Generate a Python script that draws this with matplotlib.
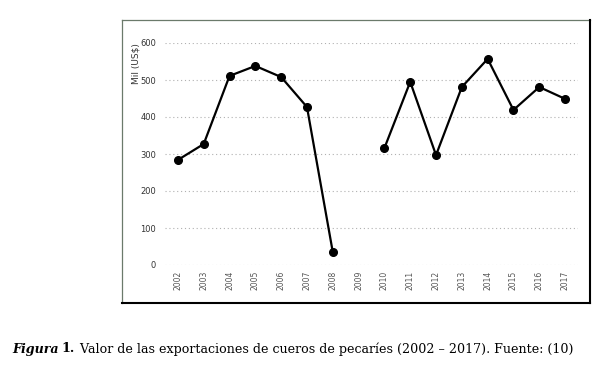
import matplotlib.pyplot as plt
from matplotlib.lines import Line2D
import numpy as np

years = [2002, 2003, 2004, 2005, 2006, 2007, 2008, 2009, 2010,
         2011, 2012, 2013, 2014, 2015, 2016, 2017]
# 2009 has no value (gap in the line)
values = [284, 327, 511, 538, 508, 427, 35, np.nan, 316,
          495, 297, 481, 557, 419, 481, 449]
y_ticks = [0, 100, 200, 300, 400, 500, 600]

W, H = 603, 366
fig = plt.figure(figsize=(W / 100, H / 100), dpi=100)

# axes placed in pixel terms: x 165..578, y 43..265
ax = fig.add_axes([165 / W, 1 - 265 / H, (578 - 165) / W, (265 - 43) / H])
ax.plot(years, values, color='black', lw=1.6, marker='o', ms=5.5, zorder=3)
ax.set_xlim(2001.5, 2017.5)
ax.set_ylim(0, 600)
ax.set_xticks(years)
ax.set_xticklabels([str(y) for y in years], rotation=90, fontsize=5.5, color='#555555')
ax.set_yticks(y_ticks)
ax.set_yticklabels([str(v) for v in y_ticks], fontsize=6, color='#333333')
ax.tick_params(length=0, pad=4)
ax.tick_params(axis='y', pad=6.5)
for s in ax.spines.values():
    s.set_visible(False)
ax.grid(axis='y', color='#b0b0b0', lw=0.8, ls=(0, (1, 2.5)), zorder=0)
ax.set_axisbelow(True)
fig.text(136 / W, 1 - 64 / H, 'Mil (US$)', rotation=90, fontsize=6.5,
         color='#333333', ha='center', va='center')

# chart frame: thin grey top/left, heavier black right/bottom
x0, x1, y0, y1 = 122 / W, 590 / W, 1 - 303 / H, 1 - 20 / H
fig.add_artist(Line2D([x0, x1], [y1, y1], transform=fig.transFigure, color='#6b7a6b', lw=0.9))
fig.add_artist(Line2D([x0, x0], [y0, y1], transform=fig.transFigure, color='#6b7a6b', lw=0.9))
fig.add_artist(Line2D([x1, x1], [y0, y1], transform=fig.transFigure, color='black', lw=1.5))
fig.add_artist(Line2D([x0, x1], [y0, y0], transform=fig.transFigure, color='black', lw=1.5))

# caption
cap_y = 1 - 349 / H
fs = 9.1
t1 = fig.text(12 / W, cap_y, 'Figura', fontsize=fs, family='DejaVu Serif',
              fontweight='bold', fontstyle='italic', va='center')
fig.canvas.draw()
bb = t1.get_window_extent()
t2 = fig.text((bb.x1 + 3) / W, cap_y, '1.', fontsize=fs, family='DejaVu Serif',
              fontweight='bold', va='center')
bb = t2.get_window_extent()
fig.text((bb.x1 + 1) / W, cap_y,
         ' Valor de las exportaciones de cueros de pecaríes (2002 – 2017). Fuente: (10)',
         fontsize=fs, family='DejaVu Serif', va='center')

fig.savefig('out.png', dpi=100)
